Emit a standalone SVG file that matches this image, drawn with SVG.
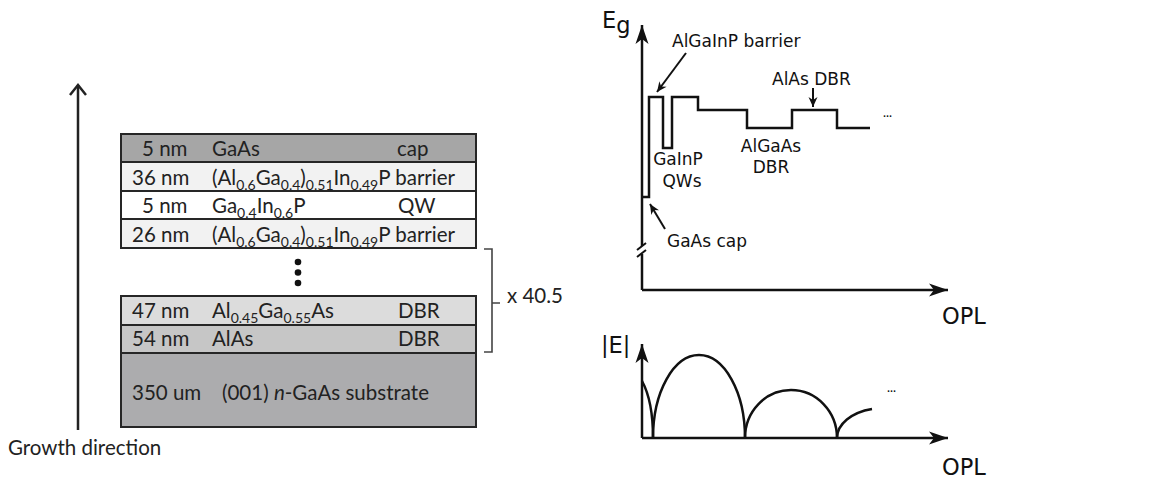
<svg xmlns="http://www.w3.org/2000/svg" width="1158" height="479" viewBox="0 0 1158 479">
<defs>
<style>
.t{font-family:Lato,"Open Sans","Liberation Sans",sans-serif;font-size:20.5px;fill:#222}
.s{font-size:14px}
.row{stroke:#262626;stroke-width:2}
.p{font-family:"DejaVu Sans","Liberation Sans",sans-serif;font-size:17px;fill:#111}
.big{font-size:22.5px}
.dots{font-size:8px;font-weight:bold}
.ln{fill:none;stroke:#111;stroke-width:2.5}
.thin{fill:none;stroke:#111;stroke-width:2}
</style>
<marker id="ah" viewBox="-20 -8 22 16" refX="0" refY="0" markerWidth="22" markerHeight="16" orient="auto" markerUnits="userSpaceOnUse"><path d="M0,0 L-19,-6.5 L-14,0 L-19,6.5 Z" fill="#111"/></marker>
<marker id="sa" viewBox="-12 -6 14 12" refX="0" refY="0" markerWidth="14" markerHeight="12" orient="auto" markerUnits="userSpaceOnUse"><path d="M0,0 L-10,-4.5 L-7,0 L-10,4.5 Z" fill="#111"/></marker>
</defs>
<rect width="1158" height="479" fill="#fff"/>

<g id="growth-arrow">
<line x1="78" y1="430" x2="78" y2="85" stroke="#222" stroke-width="2.5"/>
<path d="M70,95 L78,85 L86,95" fill="none" stroke="#222" stroke-width="2.5"/>
<text class="t" x="8" y="455">Growth direction</text>
</g>

<g id="layer-cap">
<rect class="row" x="121" y="134" width="355" height="28" fill="#a6a6a6"/>
<text class="t" x="142" y="156">5 nm</text>
<text class="t" x="212" y="156">GaAs</text>
<text class="t" x="397" y="156">cap</text>
</g>
<g id="layer-barrier-1">
<rect class="row" x="121" y="162" width="355" height="29" fill="#f2f2f2"/>
<text class="t" x="132" y="185">36 nm</text>
<text class="t" x="212" y="185">(Al<tspan class="s" dy="5">0.6</tspan><tspan dy="-5">Ga</tspan><tspan class="s" dy="5">0.4</tspan><tspan dy="-5">)</tspan><tspan class="s" dy="5">0.51</tspan><tspan dy="-5">In</tspan><tspan class="s" dy="5">0.49</tspan><tspan dy="-5">P barrier</tspan></text>
</g>
<g id="layer-qw">
<rect class="row" x="121" y="191" width="355" height="28" fill="#ffffff"/>
<text class="t" x="142" y="213">5 nm</text>
<text class="t" x="212" y="213">Ga<tspan class="s" dy="5">0.4</tspan><tspan dy="-5">In</tspan><tspan class="s" dy="5">0.6</tspan><tspan dy="-5">P</tspan></text>
<text class="t" x="398" y="213">QW</text>
</g>
<g id="layer-barrier-2">
<rect class="row" x="121" y="219" width="355" height="29" fill="#f2f2f2"/>
<text class="t" x="132" y="242">26 nm</text>
<text class="t" x="212" y="242">(Al<tspan class="s" dy="5">0.6</tspan><tspan dy="-5">Ga</tspan><tspan class="s" dy="5">0.4</tspan><tspan dy="-5">)</tspan><tspan class="s" dy="5">0.51</tspan><tspan dy="-5">In</tspan><tspan class="s" dy="5">0.49</tspan><tspan dy="-5">P barrier</tspan></text>
</g>
<g id="ellipsis-dots" fill="#111">
<circle cx="298" cy="262" r="3.3"/>
<circle cx="298" cy="272.5" r="3.3"/>
<circle cx="298" cy="283" r="3.3"/>
</g>
<g id="layer-dbr-algaas">
<rect class="row" x="121" y="296" width="355" height="29" fill="#dcdcdc"/>
<text class="t" x="132" y="318">47 nm</text>
<text class="t" x="212" y="318">Al<tspan class="s" dy="5">0.45</tspan><tspan dy="-5">Ga</tspan><tspan class="s" dy="5">0.55</tspan><tspan dy="-5">As</tspan></text>
<text class="t" x="398" y="318">DBR</text>
</g>
<g id="layer-dbr-alas">
<rect class="row" x="121" y="325" width="355" height="28" fill="#c6c6c6"/>
<text class="t" x="132" y="346">54 nm</text>
<text class="t" x="212" y="346">AlAs</text>
<text class="t" x="398" y="346">DBR</text>
</g>
<g id="layer-substrate">
<rect class="row" x="121" y="353" width="355" height="74" fill="#acacae"/>
<text class="t" x="132" y="400">350 um</text>
<text class="t" x="222" y="400">(001) <tspan font-style="italic">n</tspan>-GaAs substrate</text>
</g>
<g id="repeat-bracket">
<path d="M484,249 H492 V352 H484 M492,303 H500" fill="none" stroke="#444" stroke-width="1.6"/>
<text class="t" x="507" y="303">x 40.5</text>
</g>

<g id="eg-plot">
<text class="p big" x="602" y="28">E<tspan dy="5">g</tspan></text>
<text class="p big" x="942" y="324">OPL</text>
<text class="p" x="672" y="47">AlGaInP barrier</text>
<text class="p" x="772" y="85">AlAs DBR</text>
<text class="p" x="771" y="152" text-anchor="middle">AlGaAs</text>
<text class="p" x="771" y="173" text-anchor="middle">DBR</text>
<text class="p" x="678" y="165" text-anchor="middle">GaInP</text>
<text class="p" x="682" y="187" text-anchor="middle">QWs</text>
<text class="p" x="667" y="247">GaAs cap</text>
<text class="p dots" x="883" y="117">...</text>
</g>
<g id="e-plot">
<text class="p big" x="601" y="353">|E|</text>
<text class="p big" x="942" y="475">OPL</text>
<text class="p dots" x="887" y="392">...</text>
</g>

<g id="connectors">
<path class="ln" d="M642,246 V25" marker-end="url(#ah)"/>
<path class="ln" d="M642,290 V254"/>
<path class="thin" d="M637,250 L646,243 M637,257 L646,250"/>
<path class="ln" d="M642,290 H948" marker-end="url(#ah)"/>
<path class="ln" d="M642,197 H649 V97 H663 V148 H672 V97 H698 V110 H747 V128 H792 V110 H837 V128 H870"/>
<path class="thin" d="M686,53 L657,92" marker-end="url(#sa)"/>
<path class="thin" d="M813,88 V107" marker-end="url(#sa)"/>
<path class="thin" d="M665,229 L650,204" marker-end="url(#sa)"/>
<path class="ln" d="M642,438 V344" marker-end="url(#ah)"/>
<path class="ln" d="M642,438 H948" marker-end="url(#ah)"/>
<path class="ln" d="M642,381 C648,392 653,410 653,438"/>
<path class="ln" d="M653,438 A46,83 0 0 1 745,438"/>
<path class="ln" d="M745,438 A46,48 0 0 1 837,438"/>
<path class="ln" d="M837,438 A46,30 0 0 1 872,409"/>
</g>
</svg>
